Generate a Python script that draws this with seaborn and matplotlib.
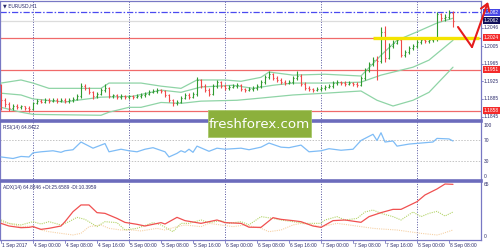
import matplotlib
matplotlib.use("Agg")
import matplotlib.pyplot as plt
import seaborn as sns
import numpy as np
from matplotlib.lines import Line2D
from matplotlib.patches import FancyArrowPatch, Rectangle

sns.set_style("white")
plt.rcParams['font.family'] = ['Liberation Sans', 'DejaVu Sans']

# ---------------- data ----------------
first_open = 1.1916
closes = [
    1.1882, 1.1873, 1.1864, 1.1869, 1.1866, 1.1868, 1.1864, 1.1862,
    1.1875, 1.1880, 1.1878, 1.1882, 1.1880, 1.1882, 1.1880, 1.1882,
    1.1880, 1.1882, 1.1885, 1.1891, 1.1914, 1.1909, 1.1900, 1.1891,
    1.1896, 1.1905, 1.1909, 1.1891, 1.1893, 1.1889, 1.1891, 1.1889,
    1.1891, 1.1889, 1.1891, 1.1894, 1.1896, 1.1900, 1.1903, 1.1905,
    1.1903, 1.1894, 1.1882, 1.1875, 1.1878, 1.1887, 1.1894, 1.1889,
    1.1896, 1.1928, 1.1914, 1.1905, 1.1896, 1.1914, 1.1923, 1.1914,
    1.1909, 1.1912, 1.1914, 1.1916, 1.1907, 1.1905, 1.1907, 1.1909,
    1.1914, 1.1923, 1.1934, 1.1941, 1.1932, 1.1928, 1.1923, 1.1921,
    1.1923, 1.1932, 1.1937, 1.1919, 1.1909, 1.1907, 1.1905, 1.1907,
    1.1909, 1.1912, 1.1914, 1.1921, 1.1923, 1.1921, 1.1919, 1.1921,
    1.1919, 1.1917, 1.1932, 1.1950, 1.1964, 1.1973, 1.1971, 1.2037,
    1.1978, 1.2005, 1.2012, 1.2018, 1.1984, 1.1991, 1.2000, 1.2005,
    1.2014, 1.2018, 1.2016, 1.2018, 1.2021, 1.2077, 1.2068, 1.2071,
    1.2080, 1.2062]
highs = [
    1.1919, 1.1887, 1.1878, 1.1873, 1.1873, 1.1871, 1.1869, 1.1868,
    1.1878, 1.1884, 1.1884, 1.1887, 1.1886, 1.1887, 1.1886, 1.1886,
    1.1886, 1.1886, 1.1889, 1.1896, 1.1921, 1.1919, 1.1912, 1.1903,
    1.1900, 1.1909, 1.1919, 1.1912, 1.1896, 1.1896, 1.1896, 1.1894,
    1.1894, 1.1894, 1.1896, 1.1898, 1.1900, 1.1905, 1.1907, 1.1909,
    1.1908, 1.1905, 1.1896, 1.1885, 1.1882, 1.1891, 1.1898, 1.1898,
    1.1900, 1.1934, 1.1930, 1.1918, 1.1909, 1.1918, 1.1928, 1.1925,
    1.1918, 1.1916, 1.1919, 1.1921, 1.1919, 1.1910, 1.1912, 1.1914,
    1.1918, 1.1927, 1.1939, 1.1948, 1.1944, 1.1937, 1.1932, 1.1927,
    1.1928, 1.1937, 1.1948, 1.1941, 1.1923, 1.1914, 1.1910, 1.1912,
    1.1914, 1.1916, 1.1919, 1.1925, 1.1927, 1.1925, 1.1925, 1.1925,
    1.1924, 1.1923, 1.1937, 1.1955, 1.1968, 1.1980, 1.1982, 1.2048,
    1.2050, 1.2012, 1.2018, 1.2023, 1.2021, 1.1996, 1.2005, 1.2009,
    1.2018, 1.2023, 1.2021, 1.2023, 1.2025, 1.2082, 1.2080, 1.2077,
    1.2087, 1.2084]
lows = [
    1.1860, 1.1866, 1.1857, 1.1860, 1.1862, 1.1862, 1.1860, 1.1855,
    1.1860, 1.1873, 1.1875, 1.1876, 1.1876, 1.1877, 1.1876, 1.1877,
    1.1876, 1.1876, 1.1878, 1.1882, 1.1887, 1.1905, 1.1896, 1.1885,
    1.1887, 1.1893, 1.1900, 1.1887, 1.1887, 1.1885, 1.1885, 1.1884,
    1.1885, 1.1885, 1.1886, 1.1888, 1.1890, 1.1893, 1.1898, 1.1899,
    1.1898, 1.1889, 1.1878, 1.1869, 1.1871, 1.1875, 1.1884, 1.1885,
    1.1886, 1.1891, 1.1909, 1.1900, 1.1891, 1.1893, 1.1910, 1.1909,
    1.1905, 1.1905, 1.1909, 1.1910, 1.1903, 1.1900, 1.1902, 1.1903,
    1.1905, 1.1910, 1.1919, 1.1930, 1.1928, 1.1923, 1.1919, 1.1916,
    1.1918, 1.1919, 1.1928, 1.1914, 1.1905, 1.1903, 1.1900, 1.1902,
    1.1903, 1.1905, 1.1909, 1.1910, 1.1916, 1.1917, 1.1914, 1.1916,
    1.1914, 1.1912, 1.1914, 1.1928, 1.1946, 1.1959, 1.1928, 1.1966,
    1.1968, 1.1975, 1.2000, 1.2009, 1.1980, 1.1980, 1.1987, 1.1996,
    1.2000, 1.2009, 1.2012, 1.2012, 1.2014, 1.2016, 1.2062, 1.2062,
    1.2066, 1.2048]
opens = [first_open] + closes[:-1]

bb_up_x = [0, 5, 8, 12, 25, 27, 29, 35, 40, 45, 49, 56, 60, 65, 67, 73, 81, 90, 95, 99, 104, 109, 113]
bb_up = [1.1921, 1.1928, 1.1921, 1.1909, 1.1909, 1.1921, 1.1921, 1.1921, 1.1914, 1.1909, 1.1928, 1.1928,
         1.1925, 1.1934, 1.1946, 1.1939, 1.1941, 1.1937, 1.1984, 1.2018, 1.2037, 1.2057, 1.2068]
bb_mid_x = [0, 5, 8, 16, 19, 25, 33, 40, 45, 50, 58, 63, 68, 73, 81, 90, 95, 103, 107, 113]
bb_mid = [1.1898, 1.1894, 1.1885, 1.1878, 1.1882, 1.1889, 1.1891, 1.1905, 1.1900, 1.1912, 1.1916, 1.1909,
          1.1916, 1.1921, 1.1921, 1.1923, 1.1939, 1.1957, 1.1973, 1.2018]
bb_lo_x = [0, 5, 8, 25, 27, 32, 35, 40, 45, 50, 59, 65, 73, 81, 90, 94, 98, 103, 107, 113]
bb_lo = [1.1866, 1.1855, 1.1850, 1.1848, 1.1855, 1.1866, 1.1866, 1.1877, 1.1875, 1.1880, 1.1882, 1.1887,
         1.1894, 1.1898, 1.1903, 1.1882, 1.1869, 1.1882, 1.1900, 1.1957]

rsi_x = [0, 3, 5, 7, 8, 10, 13, 15, 16, 18, 20, 21, 23, 25, 26, 27, 30, 32, 34, 36, 38, 41, 42, 44, 45, 46,
         47, 48, 49, 52, 54, 56, 60, 62, 65, 67, 70, 72, 75, 77, 80, 82, 85, 88, 90, 93, 94, 95, 96, 98,
         99, 102, 105, 108, 109, 112, 113]
rsi_val = [38, 35, 39, 38, 46, 48, 50, 47, 50, 52, 67, 63, 55, 61, 64, 48, 53, 50, 48, 53, 56, 48, 38, 45, 50, 47,
           53, 47, 59, 49, 55, 53, 55, 52, 57, 65, 57, 56, 61, 48, 50, 54, 51, 53, 70, 82, 70, 85, 67, 69,
           59, 63, 65, 67, 74, 73, 69]

adx_x = [0, 2, 5, 7, 8, 10, 12, 15, 16, 18, 20, 22, 24, 26, 29, 31, 34, 36, 40, 41, 44, 46, 50, 52, 54, 56,
         60, 62, 65, 68, 70, 73, 75, 78, 80, 83, 86, 90, 92, 95, 98, 100, 104, 106, 109, 111, 113]
adx_val = [15.8, 12.5, 10.4, 10.8, 11.7, 8.3, 9.6, 12.5, 17.9, 30.4, 38.8, 38.8, 29.2, 28.3, 22.0, 17.0, 14.6,
           12.5, 16.7, 15.0, 23.3, 19.2, 15.8, 17.9, 20.0, 16.7, 15.8, 11.0, 10.8, 22.9, 20.8, 19.2, 17.9,
           12.5, 10.8, 19.2, 20.0, 17.1, 24.2, 29.2, 33.3, 33.3, 42.9, 51.3, 58.8, 65.0, 64.6]
pdi_x = [0, 2, 5, 8, 10, 12, 15, 17, 19, 21, 24, 26, 29, 31, 34, 38, 40, 43, 45, 47, 50, 52, 55, 57, 60,
         62, 65, 68, 70, 73, 76, 80, 81, 84, 86, 89, 91, 93, 95, 98, 100, 103, 105, 107, 109, 111, 113]
pdi_val = [20.0, 15.8, 13.8, 17.9, 15.0, 17.9, 13.8, 17.9, 23.3, 20.8, 11.7, 17.9, 16.7, 7.5, 9.6, 16.7, 13.8,
           5.4, 15.8, 15.8, 20.0, 16.7, 19.2, 15.8, 17.9, 14.0, 24.2, 22.0, 20.0, 17.9, 15.8, 15.8, 20.0,
           24.2, 20.0, 22.0, 30.0, 32.5, 28.3, 24.2, 20.0, 30.0, 24.2, 28.3, 30.8, 25.0, 30.0]
mdi_x = [0, 5, 8, 10, 12, 15, 18, 20, 22, 25, 27, 30, 33, 35, 39, 41, 44, 46, 50, 52, 55, 58, 61, 65, 67,
         70, 73, 75, 78, 80, 84, 87, 90, 93, 95, 99, 102, 105, 109, 110, 113]
mdi_val = [17.9, 11.7, 12.5, 7.5, 5.4, 3.3, 1.3, 3.3, 11.7, 13.8, 9.6, 7.5, 7.5, 6.3, 9.6, 7.5, 11.7, 13.8,
           11.7, 15.8, 13.8, 11.7, 13.8, 9.6, 5.4, 7.5, 13.8, 15.8, 13.8, 11.7, 15.8, 13.8, 11.7, 9.6, 8.8,
           7.5, 5.4, 3.3, 1.3, 2.5, 7.5]

level_lines = [1.2024, 1.1951, 1.1858]
price_ticks = [1.2046, 1.2005, 1.1965, 1.1925, 1.1885, 1.1845]
high_mark = 1.2082
bid_price = 1.2062
support_level = 1.2023
day_breaks = [8, 32, 56, 80, 104]
time_ticks = [0, 8, 16, 24, 32, 40, 48, 56, 64, 72, 80, 88, 96, 104, 112]
time_labels = ["1 Sep 2017", "4 Sep 00:00", "4 Sep 08:00", "4 Sep 16:00", "5 Sep 00:00",
               "5 Sep 08:00", "5 Sep 16:00", "6 Sep 00:00", "6 Sep 08:00", "6 Sep 16:00",
               "7 Sep 00:00", "7 Sep 08:00", "7 Sep 16:00", "8 Sep 00:00", "8 Sep 08:00"]

# ---------------- figure ----------------
W, H = 500, 250
fig = plt.figure(figsize=(5, 2.5), dpi=100)
fig.patch.set_facecolor("white")


def rect(x0, y0, x1, y1):
    return [x0 / W, 1 - y1 / H, (x1 - x0) / W, (y1 - y0) / H]


ax_p = fig.add_axes(rect(0, 1, 481, 121))
ax_r = fig.add_axes(rect(0, 121, 481, 181))
ax_a = fig.add_axes(rect(0, 181, 481, 240))

frame = "#7878c4"
txt = "#2c2c6c"
fs = 3.5
lab_dx = 1.0 + 2.5 / 481

for ax in (ax_p, ax_r, ax_a):
    ax.set_xlim(-0.25, 120.0)
    ax.set_xticks([])
    ax.set_yticks([])
    ax.set_facecolor("white")
    for s in ax.spines.values():
        s.set_color(frame)
        s.set_linewidth(0.9)
    for b in day_breaks:
        ax.axvline(b, color="#55559f", lw=0.7, ls=(0, (1, 1.6)), zorder=1)

ax_p.spines["bottom"].set_visible(False)
ax_r.spines["bottom"].set_visible(False)
for ax in (ax_r, ax_a):
    ax.spines["top"].set_linewidth(2.6)
    ax.spines["top"].set_color("#6c6cbc")
    ax.spines["top"].set_zorder(10)

# ---- price panel ----
ax_p.set_ylim(1.1835, 1.2107)
for lv in level_lines:
    ax_p.axhline(lv, color="#f06a6a", lw=0.9, zorder=2)
ax_p.axhline(high_mark, color="#4a4af0", lw=0.9, ls=(0, (5, 1.5, 1.2, 1.5)), zorder=2)
ax_p.axhline(bid_price, color="#dcdcdc", lw=0.9, zorder=1)

band_col = "#8fd4a6"
sns.lineplot(x=bb_up_x, y=bb_up, ax=ax_p, color=band_col, lw=0.9, zorder=3)
sns.lineplot(x=bb_mid_x, y=bb_mid, ax=ax_p, color=band_col, lw=0.9, zorder=3)
sns.lineplot(x=bb_lo_x, y=bb_lo, ax=ax_p, color=band_col, lw=0.9, zorder=3)

xs = np.arange(len(closes))
o = np.array(opens)
c = np.array(closes)
cols = np.where(c > o, "#2f9a2f", np.where(c < o, "#f04848", "#202020"))
ax_p.vlines(xs, lows, highs, colors=cols, lw=0.8, zorder=4)
ax_p.hlines(o, xs - 0.3, xs, colors=cols, lw=0.8, zorder=4)
ax_p.hlines(c, xs, xs + 0.3, colors=cols, lw=0.8, zorder=4)

ax_p.plot([93, 119.6], [support_level, support_level], color="#f4e400", lw=2.4,
          solid_capstyle="butt", zorder=5, clip_on=False)

ytr = ax_p.get_yaxis_transform()
for v in price_ticks:
    ax_p.text(lab_dx, v, f"{v:.4f}", transform=ytr, fontsize=fs, color=txt,
              va="center", ha="left")
    ax_p.plot([1.0, 1.0 + 2 / 481], [v, v], transform=ytr, color=frame, lw=0.6, clip_on=False)


def box_label(ax, v, s, fc):
    ax.text(lab_dx, v, s, transform=ax.get_yaxis_transform(), fontsize=fs,
            color="white", va="center", ha="left", zorder=12,
            bbox=dict(boxstyle="square,pad=0.2", fc=fc, ec="none"))


box_label(ax_p, high_mark, f"{high_mark:.4f}", "#4646e6")
box_label(ax_p, bid_price, f"{bid_price:.4f}", "#10105a")
for lv in level_lines:
    box_label(ax_p, lv, f"{lv:.4f}", "#f42a2a")

ax_p.text(3 / 481, 1 - 5 / 120, "\u25bc EURUSD,H1", transform=ax_p.transAxes, fontsize=fs,
          color=txt, va="center", ha="left", family=['DejaVu Sans'])

# ---- RSI panel ----
ax_r.set_ylim(-8.7, 107.8)
for lv in (70, 30):
    ax_r.axhline(lv, color="#c4c4c4", lw=0.7, ls=(0, (1.5, 1.5)), zorder=1)
sns.lineplot(x=rsi_x, y=rsi_val, ax=ax_r, color="#7ebcf6", lw=0.9, zorder=3)
ytr = ax_r.get_yaxis_transform()
for v in (100, 70, 30, 0):
    ax_r.text(lab_dx, v, str(v), transform=ytr, fontsize=fs, color=txt, va="center", ha="left")
ax_r.text(3 / 481, 1 - 6 / 60, "RSI(14) 64.8422", transform=ax_r.transAxes, fontsize=fs,
          color=txt, va="center", ha="left")

# ---- ADX panel ----
ax_a.set_ylim(-5, 68.75)
sns.lineplot(x=mdi_x, y=mdi_val, ax=ax_a, color="#f6d2a8", lw=0.8, ls=(0, (1, 1)), zorder=2)
sns.lineplot(x=pdi_x, y=pdi_val, ax=ax_a, color="#b4d46a", lw=0.8, ls=(0, (1, 1)), zorder=3)
sns.lineplot(x=adx_x, y=adx_val, ax=ax_a, color="#f05050", lw=0.9, zorder=4)
ytr = ax_a.get_yaxis_transform()
for v in (65, 0):
    ax_a.text(lab_dx, v, str(v), transform=ytr, fontsize=fs, color=txt, va="center", ha="left")
ax_a.text(3 / 481, 1 - 6 / 59, "ADX(14) 64.8846 +DI:25.6589 -DI:10.3959", transform=ax_a.transAxes,
          fontsize=fs, color=txt, va="center", ha="left")

xtr = ax_a.get_xaxis_transform()
for t, lab in zip(time_ticks, time_labels):
    ax_a.plot([t, t], [0, -3 / 59], transform=xtr, color=frame, lw=0.6, clip_on=False)
    ax_a.text(t + 0.3, -2.5 / 59, lab, transform=xtr, fontsize=fs, color=txt, va="top", ha="left")

for ax in (ax_p, ax_r, ax_a):
    ax.set_xlim(-0.25, 120.0)
    ax.set_xlabel("")
    ax.set_ylabel("")
    ax.legend_ = None

# ---- watermark ----
fig.add_artist(Rectangle((208 / W, 1 - 137 / H), 103 / W, 27 / H, transform=fig.transFigure,
                         fc="#8cb03c", ec="#a8c86a", lw=0.6, zorder=20))
fig.text(259.5 / W, 1 - 124 / H, "freshforex.com", color="white", fontsize=9.6,
         ha="center", va="center", zorder=21, family=['DejaVu Sans'])

# ---- hand-drawn arrow ----
px = [458, 472]
py = [27, 47]
fig.add_artist(Line2D([p / W for p in px], [1 - p / H for p in py], transform=fig.transFigure,
                      color="#e51c1c", lw=1.5, zorder=22, solid_capstyle="round"))
fig.add_artist(FancyArrowPatch((472 / W, 1 - 47 / H), (488 / W, 1 - 2 / H), transform=fig.transFigure,
                               arrowstyle="->,head_length=3,head_width=2", color="#e51c1c", lw=1.5,
                               mutation_scale=1.6, zorder=22, shrinkA=0, shrinkB=0))

fig.savefig("out.png", dpi=100, facecolor="white")
